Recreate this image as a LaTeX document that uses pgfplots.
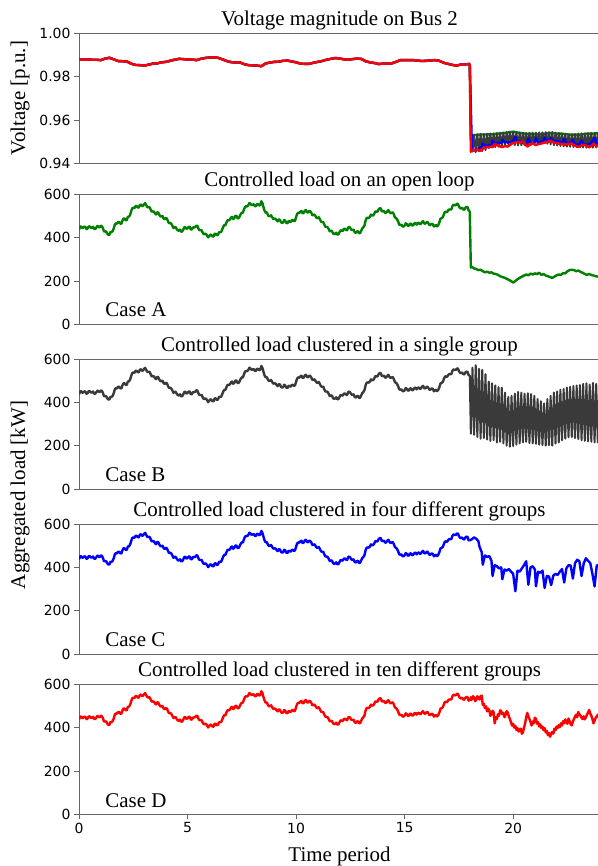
\documentclass[border=0pt]{standalone}
\usepackage{pgfplots}
\usepackage{pgfplotstable}
\pgfplotsset{compat=1.18}
\usepackage{fontspec}
\setmainfont{Liberation Serif}
\newfontfamily\tickfamily{DejaVu Sans}
\newcommand\titlefont{\fontsize{21}{25}\selectfont}
\newcommand\tickfont{\tickfamily\fontsize{14}{16}\selectfont}
\definecolor{mgreen}{RGB}{0,128,0}
\definecolor{mgray}{RGB}{58,58,58}

\pgfplotstableread{
t L
0.0 437
0.05 450
0.1 452
0.15 444
0.2 446
0.25 451
0.3 449
0.35 439
0.4 443
0.45 452
0.5 451
0.55 445
0.6 446
0.65 450
0.7 440
0.75 440
0.8 447
0.85 454
0.9 450
0.95 447
1.0 455
1.05 453
1.1 444
1.15 429
1.2 428
1.25 429
1.3 419
1.35 413
1.4 413
1.45 426
1.5 425
1.55 430
1.6 442
1.65 460
1.7 466
1.75 464
1.8 472
1.85 472
1.9 465
1.95 464
2.0 478
2.05 488
2.1 488
2.15 481
2.2 480
2.25 496
2.3 497
2.35 504
2.4 520
2.45 535
2.5 538
2.55 536
2.6 545
2.65 546
2.7 540
2.75 538
2.8 550
2.85 553
2.9 546
2.95 547
3.0 555
3.05 559
3.1 549
3.15 540
3.2 540
3.25 541
3.3 530
3.35 520
3.4 521
3.45 520
3.5 512
3.55 507
3.6 517
3.65 516
3.7 505
3.75 498
3.8 498
3.85 500
3.9 488
3.95 485
4.0 490
4.05 488
4.1 475
4.15 466
4.2 468
4.25 464
4.3 455
4.35 444
4.4 448
4.45 449
4.5 440
4.55 433
4.6 432
4.65 437
4.7 428
4.75 428
4.8 436
4.85 448
4.9 448
4.95 440
5.0 443
5.05 450
5.1 450
5.15 437
5.2 438
5.25 447
5.3 447
5.35 448
5.4 455
5.45 455
5.5 442
5.55 434
5.6 434
5.65 434
5.7 423
5.75 415
5.8 418
5.85 417
5.9 410
5.95 401
6.0 407
6.05 414
6.1 412
6.15 405
6.2 405
6.25 418
6.3 418
6.35 411
6.4 413
6.45 425
6.5 425
6.55 426
6.6 438
6.65 451
6.7 458
6.75 458
6.8 472
6.85 481
6.9 480
6.95 483
7.0 492
7.05 496
7.1 486
7.15 489
7.2 500
7.25 501
7.3 490
7.35 489
7.4 498
7.45 509
7.5 515
7.55 515
7.6 530
7.65 542
7.7 545
7.75 544
7.8 550
7.85 560
7.9 556
7.95 550
8.0 552
8.05 554
8.1 545
8.15 545
8.2 555
8.25 554
8.3 548
8.35 551
8.4 568
8.45 559
8.5 540
8.55 524
8.6 515
8.65 517
8.7 505
8.75 498
8.8 500
8.85 503
8.9 494
8.95 486
9.0 488
9.05 487
9.1 480
9.15 475
9.2 484
9.25 483
9.3 472
9.35 468
9.4 470
9.45 481
9.5 478
9.55 468
9.6 466
9.65 476
9.7 475
9.75 472
9.8 480
9.85 481
9.9 476
9.95 478
10.0 495
10.05 510
10.1 515
10.15 514
10.2 520
10.25 523
10.3 512
10.35 514
10.4 524
10.45 527
10.5 518
10.55 515
10.6 523
10.65 522
10.7 515
10.75 503
10.8 505
10.85 506
10.9 498
10.95 491
11.0 490
11.05 494
11.1 484
11.15 474
11.2 472
11.25 472
11.3 460
11.35 450
11.4 450
11.45 448
11.5 440
11.55 429
11.6 432
11.65 431
11.7 420
11.75 416
11.8 418
11.85 423
11.9 414
11.95 415
12.0 425
12.05 434
12.1 432
12.15 431
12.2 440
12.25 441
12.3 436
12.35 434
12.4 447
12.45 450
12.5 444
12.55 436
12.6 435
12.65 437
12.7 425
12.75 422
12.8 428
12.85 430
12.9 420
12.95 421
13.0 432
13.05 443
13.1 448
13.15 456
13.2 478
13.25 490
13.3 492
13.35 491
13.4 496
13.45 506
13.5 502
13.55 502
13.6 510
13.65 521
13.7 520
13.75 520
13.8 530
13.85 535
13.9 535
13.95 521
14.0 522
14.05 523
14.1 514
14.15 515
14.2 522
14.25 527
14.3 518
14.35 512
14.4 515
14.45 517
14.5 508
14.55 494
14.6 490
14.65 485
14.7 475
14.75 460
14.8 458
14.85 460
14.9 452
14.95 451
15.0 456
15.05 466
15.1 462
15.15 454
15.2 455
15.25 465
15.3 463
15.35 455
15.4 458
15.45 466
15.5 468
15.55 460
15.6 466
15.65 469
15.7 462
15.75 464
15.8 472
15.85 476
15.9 466
15.95 464
16.0 470
16.05 473
16.1 465
16.15 457
16.2 460
16.25 464
16.3 462
16.35 451
16.4 455
16.45 458
16.5 452
16.55 458
16.6 470
16.65 487
16.7 490
16.75 493
16.8 505
16.85 518
16.9 520
16.95 517
17.0 525
17.05 530
17.1 530
17.15 530
17.2 545
17.25 552
17.3 550
17.35 549
17.4 555
17.45 557
17.5 545
17.55 536
17.6 535
17.65 538
17.7 530
17.75 529
17.8 538
17.85 542
17.9 540
17.95 525
18.0 524
}\base

\pgfplotstableread{
t V
0.0 0.9881
0.2 0.9878
0.4 0.9879
0.6 0.9878
0.8 0.9878
1.0 0.9876
1.2 0.9883
1.4 0.9887
1.6 0.9880
1.8 0.9872
2.0 0.9871
2.2 0.9870
2.4 0.9860
2.6 0.9854
2.8 0.9853
3.0 0.9851
3.2 0.9855
3.4 0.9860
3.6 0.9861
3.8 0.9866
4.0 0.9868
4.2 0.9873
4.4 0.9878
4.6 0.9882
4.8 0.9881
5.0 0.9879
5.2 0.9880
5.4 0.9876
5.6 0.9882
5.8 0.9886
6.0 0.9888
6.2 0.9889
6.4 0.9887
6.6 0.9880
6.8 0.9872
7.0 0.9867
7.2 0.9865
7.4 0.9866
7.6 0.9858
7.8 0.9853
8.0 0.9852
8.2 0.9851
8.4 0.9848
8.6 0.9861
8.8 0.9865
9.0 0.9868
9.2 0.9869
9.4 0.9873
9.6 0.9874
9.8 0.9870
10.0 0.9866
10.2 0.9860
10.4 0.9859
10.6 0.9859
10.8 0.9864
11.0 0.9868
11.2 0.9872
11.4 0.9878
11.6 0.9882
11.8 0.9886
12.0 0.9884
12.2 0.9880
12.4 0.9878
12.6 0.9881
12.8 0.9883
13.0 0.9882
13.2 0.9871
13.4 0.9866
13.6 0.9863
13.8 0.9858
14.0 0.9860
14.2 0.9860
14.4 0.9861
14.6 0.9868
14.8 0.9876
15.0 0.9876
15.2 0.9876
15.4 0.9876
15.6 0.9874
15.8 0.9872
16.0 0.9873
16.2 0.9875
16.4 0.9876
16.6 0.9873
16.8 0.9864
17.0 0.9859
17.2 0.9854
17.4 0.9851
17.6 0.9856
17.8 0.9856
18.0 0.9859
}\baseV

\pgfplotstableread{
t L
18.0 524
18.05 262
18.1 265
18.2 258
18.3 255
18.4 250
18.5 252
18.6 245
18.7 240
18.8 243
18.9 238
19.0 240
19.1 234
19.2 232
19.3 228
19.4 222
19.5 218
19.6 215
19.7 210
19.8 205
19.9 200
20.0 192
20.1 200
20.2 208
20.3 214
20.4 220
20.5 225
20.6 230
20.7 226
20.8 234
20.9 230
21.0 235
21.1 232
21.2 238
21.3 228
21.4 232
21.5 225
21.6 222
21.7 218
21.8 214
21.9 220
22.0 226
22.1 230
22.2 228
22.3 236
22.4 235
22.5 245
22.6 250
22.7 252
22.8 250
22.9 245
23.0 248
23.1 242
23.2 238
23.3 232
23.4 228
23.5 232
23.6 228
23.7 225
23.8 222
23.9 220
24.0 222
}\postA

\pgfplotstableread{
t V
18.0 0.9859
18.05 0.9529
18.2 0.9530
18.4 0.9532
18.6 0.9533
18.8 0.9533
19.0 0.9534
19.2 0.9536
19.4 0.9538
19.6 0.9540
19.8 0.9543
20.0 0.9546
20.2 0.9542
20.4 0.9539
20.6 0.9536
20.8 0.9536
21.0 0.9535
21.2 0.9534
21.4 0.9536
21.6 0.9538
21.8 0.9541
22.0 0.9537
22.2 0.9537
22.4 0.9535
22.6 0.9532
22.8 0.9532
23.0 0.9532
23.2 0.9534
23.4 0.9537
23.6 0.9537
23.8 0.9538
24.0 0.9538
}\postAV

\pgfplotstableread{
t L V
18.0 524 0.9859
18.05 255 0.9530
18.125 560 0.9454
18.2 250 0.9532
18.275 572 0.9451
18.35 240 0.9534
18.425 555 0.9455
18.5 232 0.9536
18.575 550 0.9456
18.65 235 0.9535
18.725 530 0.9461
18.8 228 0.9537
18.875 495 0.9470
18.95 222 0.9538
19.025 488 0.9472
19.1 225 0.9538
19.175 478 0.9475
19.25 215 0.9540
19.325 470 0.9477
19.4 218 0.9540
19.475 468 0.9477
19.55 210 0.9542
19.625 445 0.9483
19.7 200 0.9544
19.775 425 0.9488
19.85 195 0.9545
19.925 430 0.9487
20.0 198 0.9545
20.075 440 0.9484
20.15 205 0.9543
20.225 448 0.9482
20.3 210 0.9542
20.375 445 0.9483
20.45 215 0.9540
20.525 440 0.9484
20.6 218 0.9540
20.675 442 0.9484
20.75 212 0.9541
20.825 438 0.9485
20.9 210 0.9542
20.975 430 0.9487
21.05 208 0.9542
21.125 415 0.9490
21.2 205 0.9543
21.275 405 0.9493
21.35 203 0.9543
21.425 395 0.9495
21.5 200 0.9544
21.575 415 0.9490
21.65 202 0.9544
21.725 430 0.9487
21.8 200 0.9544
21.875 445 0.9483
21.95 210 0.9542
22.025 450 0.9482
22.1 215 0.9540
22.175 458 0.9480
22.25 225 0.9538
22.325 462 0.9478
22.4 232 0.9536
22.475 468 0.9477
22.55 238 0.9534
22.625 472 0.9476
22.7 240 0.9534
22.775 475 0.9475
22.85 235 0.9535
22.925 478 0.9475
23.0 230 0.9537
23.075 480 0.9474
23.15 225 0.9538
23.225 485 0.9473
23.3 222 0.9538
23.375 488 0.9472
23.45 220 0.9539
23.525 482 0.9474
23.6 218 0.9540
23.675 490 0.9472
23.75 215 0.9540
23.825 485 0.9473
23.9 215 0.9540
23.975 488 0.9472
24.05 220 0.9539
}\postB

\pgfplotstableread{
t L V
18.0 524 0.9859
18.1 530 0.9462
18.2 538 0.9460
18.3 532 0.9461
18.4 520 0.9464
18.45 495 0.9470
18.55 470 0.9477
18.6 412 0.9491
18.7 455 0.9480
18.8 448 0.9482
18.9 452 0.9481
19.0 430 0.9487
19.05 360 0.9504
19.15 410 0.9492
19.25 405 0.9493
19.35 395 0.9495
19.45 400 0.9494
19.5 345 0.9508
19.6 390 0.9497
19.7 385 0.9498
19.8 392 0.9496
19.9 380 0.9499
20.0 370 0.9502
20.1 290 0.9522
20.2 385 0.9498
20.3 380 0.9499
20.4 395 0.9495
20.5 410 0.9492
20.6 428 0.9487
20.7 320 0.9514
20.8 400 0.9494
20.9 405 0.9493
21.0 390 0.9497
21.05 312 0.9516
21.15 380 0.9499
21.25 375 0.9500
21.35 385 0.9498
21.45 305 0.9518
21.55 360 0.9504
21.65 358 0.9505
21.75 318 0.9515
21.85 362 0.9504
21.95 370 0.9502
22.05 365 0.9503
22.15 380 0.9499
22.25 392 0.9496
22.35 330 0.9512
22.45 395 0.9495
22.55 410 0.9492
22.65 408 0.9492
22.75 348 0.9507
22.85 420 0.9489
22.95 435 0.9485
23.05 428 0.9487
23.15 360 0.9504
23.25 418 0.9490
23.35 442 0.9484
23.45 430 0.9487
23.55 420 0.9489
23.65 370 0.9502
23.75 312 0.9516
23.85 408 0.9492
23.95 412 0.9491
24.0 405 0.9493
}\postC

\pgfplotstableread{
t V
18.0 0.9859
18.05 0.9453
18.1 0.9461
18.2 0.9459
18.3 0.9462
18.4 0.9460
18.5 0.9458
18.6 0.9468
18.7 0.9472
18.8 0.9475
18.9 0.9474
19.0 0.9478
19.1 0.9477
19.15 0.9489
19.25 0.9484
19.35 0.9480
19.45 0.9475
19.55 0.9477
19.65 0.9479
19.75 0.9477
19.85 0.9484
19.95 0.9492
20.05 0.9494
20.15 0.9497
20.25 0.9498
20.35 0.9495
20.45 0.9500
20.55 0.9489
20.65 0.9477
20.75 0.9484
20.85 0.9492
20.95 0.9489
21.05 0.9484
21.15 0.9488
21.25 0.9490
21.35 0.9493
21.45 0.9495
21.55 0.9498
21.65 0.9500
21.7 0.9505
21.8 0.9499
21.9 0.9495
22.0 0.9493
22.1 0.9491
22.2 0.9489
22.3 0.9487
22.4 0.9485
22.5 0.9490
22.6 0.9487
22.7 0.9492
22.8 0.9484
22.9 0.9479
23.0 0.9476
23.1 0.9480
23.2 0.9484
23.3 0.9485
23.4 0.9479
23.5 0.9474
23.6 0.9480
23.7 0.9489
23.8 0.9483
23.9 0.9479
24.0 0.9477
}\postDV

\pgfplotstableread{
t L
18.0 524
18.05 540
18.075 528
18.1 532
18.15 545
18.2 540
18.25 522
18.3 528
18.35 545
18.4 538
18.45 530
18.5 545
18.55 548
18.6 505
18.65 510
18.7 490
18.75 498
18.8 475
18.85 488
18.9 480
18.95 455
19.0 462
19.05 478
19.1 470
19.15 420
19.2 448
19.25 440
19.3 462
19.35 455
19.4 480
19.45 475
19.5 462
19.55 468
19.6 448
19.65 460
19.7 476
19.75 470
19.8 452
19.85 440
19.9 425
19.95 410
20.0 418
20.05 400
20.1 408
20.15 390
20.2 398
20.25 382
20.3 392
20.35 395
20.4 372
20.45 378
20.5 400
20.55 420
20.6 448
20.65 468
20.7 452
20.75 440
20.8 425
20.85 410
20.9 428
20.95 420
21.0 446
21.05 440
21.1 418
21.15 425
21.2 405
21.25 415
21.3 398
21.35 405
21.4 388
21.45 398
21.5 378
21.55 385
21.6 365
21.65 375
21.7 358
21.75 372
21.8 380
21.85 372
21.9 395
21.95 388
22.0 405
22.05 398
22.1 412
22.15 402
22.2 420
22.25 410
22.3 430
22.35 420
22.4 438
22.45 425
22.5 418
22.55 442
22.6 430
22.65 415
22.7 410
22.75 428
22.8 440
22.85 450
22.9 460
22.95 448
23.0 472
23.05 462
23.1 455
23.15 445
23.2 440
23.25 452
23.3 438
23.35 448
23.4 460
23.45 470
23.5 482
23.55 465
23.6 455
23.65 440
23.7 420
23.75 432
23.8 445
23.85 452
23.9 460
23.95 448
24.0 470
}\postD

\pgfplotsset{
  panel/.style={
    scale only axis, width=521bp, height=130bp,
    anchor=south west,
    xmin=0, xmax=24,
    axis line style={draw=black!60, line width=0.9bp},
    tick style={draw=black!60, line width=0.9bp},
    tick align=outside, major tick length=5bp,
    xtick pos=bottom, ytick pos=left,
    xtick=\empty,
    ticklabel style={font=\tickfont},
    /pgf/number format/assume math mode=true,
    title style={at={(0.5,1)}, anchor=base, yshift=1.5bp, font=\titlefont},
    clip=true,
  },
  loadpanel/.style={panel, ymin=0, ymax=600, ytick={0,200,400,600}},
  dline/.style={line width=2.4bp, line join=round},
  osc/.style={line join=round, line cap=round},
}

\begin{document}
\begin{tikzpicture}
\useasboundingbox (0,0) rectangle (598bp,866bp);

% Panel 1: voltage
\begin{axis}[panel, at={(79bp,702.7bp)},
  ymin=0.94, ymax=1.00, ytick={0.94,0.96,0.98,1.00},
  yticklabel style={/pgf/number format/.cd, fixed, fixed zerofill, precision=2},
  title={Voltage magnitude on Bus 2}]
\addplot[dline, mgreen] table[x=t, y=V] {\baseV};
\addplot[dline, mgreen] table[x=t, y=V] {\postAV};
\addplot[osc, line width=1.9bp, mgray] table[x=t, y=V] {\postB};
\addplot[dline, blue] table[x=t, y=V] {\baseV};
\addplot[dline, blue] table[x=t, y=V] {\postC};
\addplot[dline, red] table[x=t, y=V] {\baseV};
\addplot[dline, red] table[x=t, y=V] {\postDV};
\end{axis}

% Panel 2: Case A
\begin{axis}[loadpanel, at={(79bp,541.7bp)},
  title={Controlled load on an open loop}]
\addplot[dline, mgreen] table[x=t, y=L] {\base};
\addplot[dline, mgreen] table[x=t, y=L] {\postA};
\node[anchor=base west, font=\titlefont] at (axis description cs:0.044,0.06) {Case A};
\end{axis}

% Panel 3: Case B
\begin{axis}[loadpanel, at={(79bp,377bp)},
  title={Controlled load clustered in a single group}]
\addplot[dline, mgray] table[x=t, y=L] {\base};
\addplot[osc, line width=2bp, mgray] table[x=t, y=L] {\postB};
\node[anchor=base west, font=\titlefont] at (axis description cs:0.044,0.06) {Case B};
\end{axis}

% Panel 4: Case C
\begin{axis}[loadpanel, at={(79bp,212bp)},
  title={Controlled load clustered in four different groups}]
\addplot[dline, blue] table[x=t, y=L] {\base};
\addplot[dline, blue] table[x=t, y=L] {\postC};
\node[anchor=base west, font=\titlefont] at (axis description cs:0.044,0.06) {Case C};
\end{axis}

% Panel 5: Case D
\begin{axis}[loadpanel, at={(79bp,51.7bp)},
  xtick={0,5,10,15,20},
  xlabel={Time period},
  xlabel style={at={(0.5,0)}, anchor=base, yshift=-47bp, font=\titlefont},
  title={Controlled load clustered in ten different groups}]
\addplot[dline, red] table[x=t, y=L] {\base};
\addplot[dline, red] table[x=t, y=L] {\postD};
\node[anchor=base west, font=\titlefont] at (axis description cs:0.044,0.055) {Case D};
\end{axis}

\node[rotate=90, font=\titlefont] at (20bp,768bp) {Voltage [p.u.]};
\node[rotate=90, font=\titlefont] at (20bp,371bp) {Aggregated load [kW]};
\end{tikzpicture}
\end{document}
